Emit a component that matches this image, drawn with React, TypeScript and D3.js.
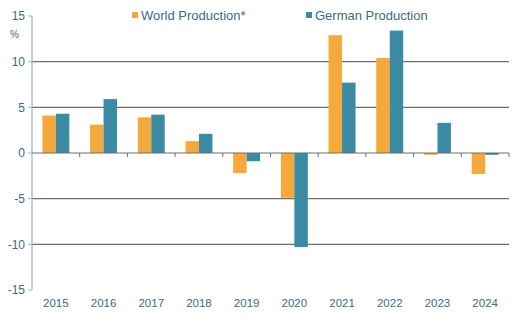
import React from "react";
import * as d3 from "d3";

const years = ["2015", "2016", "2017", "2018", "2019", "2020", "2021", "2022", "2023", "2024"];
const worldProduction = [4.1, 3.1, 3.9, 1.3, -2.2, -4.9, 12.9, 10.4, -0.2, -2.3];
const germanProduction = [4.3, 5.9, 4.2, 2.1, -0.9, -10.3, 7.7, 13.4, 3.3, -0.2];
const yTicks = [15, 10, 5, 0, -5, -10, -15];
const seriesNames = ["World Production*", "German Production"];
const colors = ["#F5A83B", "#3A8BA3"];

export default function App() {
  const W = 527, H = 332;
  const left = 32, right = 509, top = 16, bottom = 290;
  const y = d3.scaleLinear().domain([-15, 15]).range([bottom, top]);
  const x = d3.scaleBand().domain(years).range([left, right]).paddingInner(0).paddingOuter(0);
  const inner = d3.scaleBand().domain(["w", "g"]).range([0, x.bandwidth()]).paddingInner(0).paddingOuter(0.77);
  const series = [worldProduction, germanProduction];
  const font = "Arial, 'Liberation Sans', sans-serif";
  const textColor = "#3D6A85";
  return (
    <svg width={W} height={H} style={{ position: "absolute", left: 0, top: 0, background: "#fff" }} fontFamily={font}>
      {yTicks.filter(t => t !== 0 && Math.abs(t) !== 15).map(t => (
        <line key={t} x1={left} x2={right} y1={y(t)} y2={y(t)} stroke="#6f6f6f" strokeWidth={1.2} />
      ))}
      {series.map((vals, si) => vals.map((v, i) => {
        const bx = x(years[i])! + inner(si === 0 ? "w" : "g")!;
        return (
          <rect key={`${si}-${i}`} x={bx} width={inner.bandwidth()} y={Math.min(y(v), y(0))} height={Math.abs(y(v) - y(0))} fill={colors[si]} />
        );
      }))}
      <line x1={left} x2={left} y1={top} y2={bottom} stroke="#9DB3C2" strokeWidth={1.2} />
      {yTicks.map(t => (
        <g key={t}>
          <line x1={left - 4} x2={left} y1={y(t)} y2={y(t)} stroke="#9DB3C2" strokeWidth={1} />
          <text x={left - 7} y={y(t)} dy="0.35em" textAnchor="end" fontSize={12} fill={textColor}>{t}</text>
        </g>
      ))}
      <text x={10} y={38} fontSize={10} fill={textColor}>%</text>
      <line x1={left} x2={right} y1={y(0)} y2={y(0)} stroke="#6f6f6f" strokeWidth={1.2} />
      {years.map((yr, i) => (
        <line key={yr} x1={x(yr)! + x.bandwidth()} x2={x(yr)! + x.bandwidth()} y1={y(0)} y2={y(0) + 4} stroke="#6f6f6f" strokeWidth={1} />
      ))}
      {years.map(yr => (
        <text key={yr} x={x(yr)! + x.bandwidth() / 2} y={307} textAnchor="middle" fontSize={11.5} fill={textColor}>{yr}</text>
      ))}
      <rect x={132} y={12} width={6} height={6} fill={colors[0]} />
      <text x={141} y={20} fontSize={13} fill={textColor}>{seriesNames[0]}</text>
      <rect x={306} y={12} width={6} height={6} fill={colors[1]} />
      <text x={315} y={20} fontSize={13} fill={textColor}>{seriesNames[1]}</text>
    </svg>
  );
}
